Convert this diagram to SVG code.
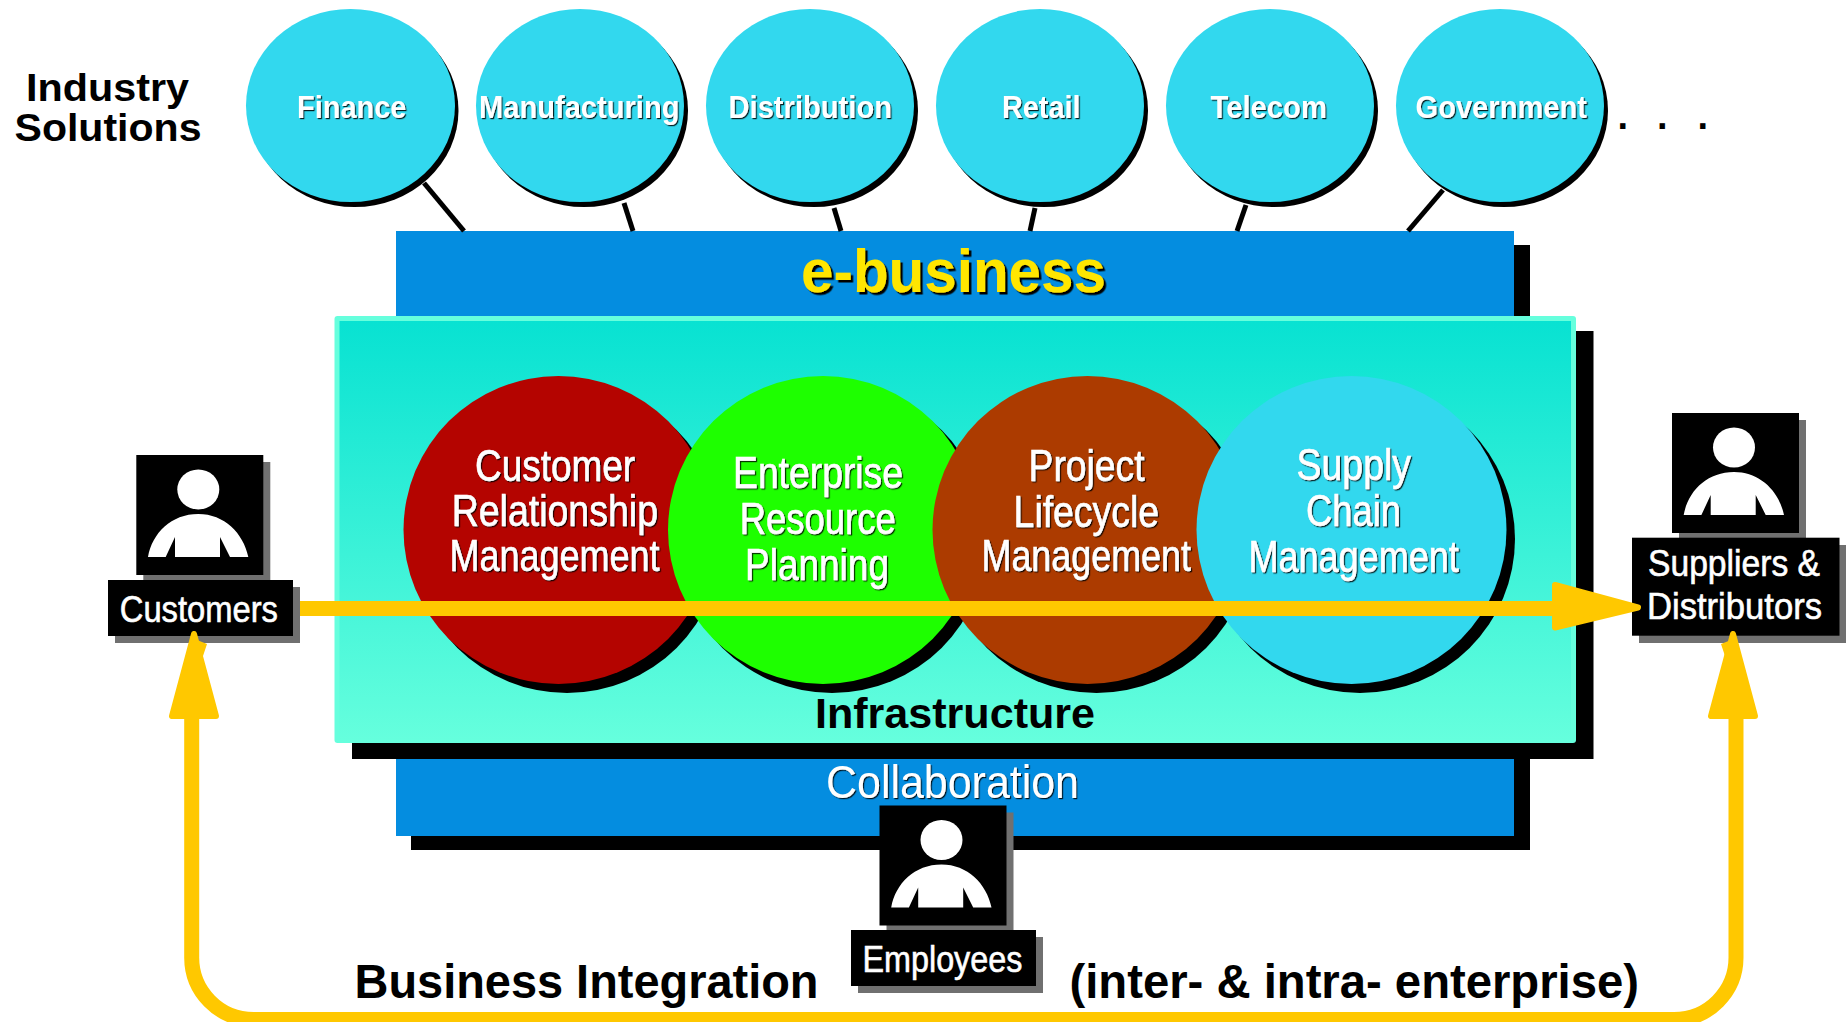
<svg xmlns="http://www.w3.org/2000/svg" xmlns:xlink="http://www.w3.org/1999/xlink" width="1846" height="1022" viewBox="0 0 1846 1022">
<style>
text{font-family:"Liberation Sans",Arial,sans-serif}
.b{font-weight:700}
.k{fill:#000}
.w{fill:#fff}
.t{stroke:#fff;stroke-width:.6}
.s1{filter:url(#ts1)}
.s2{filter:url(#ts2)}
.sol{fill:#32d8ee}
.sh{fill:#000}
.gs{fill:#707070}
.blk{fill:#000}
.f28{font-size:31px}
.f40{font-size:44px}
.f34{font-size:37px}
.wire{stroke:#000;stroke-width:5;fill:none}
.flow{stroke:#ffc800;stroke-width:15;fill:none}
.head{fill:#ffc800;stroke:#ffc800;stroke-width:6;stroke-linejoin:round}
</style>
<defs>
<filter id="ts1" x="-10%" y="-20%" width="120%" height="140%"><feDropShadow dx="1.2" dy="1.2" stdDeviation="0" flood-color="#000" flood-opacity=".85"/></filter>
<filter id="ts2" x="-10%" y="-20%" width="120%" height="140%"><feDropShadow dx="2.5" dy="2.5" stdDeviation="0" flood-color="#000"/></filter>
<linearGradient id="infra" x1="0" y1="0" x2="0" y2="1"><stop offset="0" stop-color="#08e2d2"/><stop offset="1" stop-color="#66ffdd"/></linearGradient>
<g id="person">
<rect x="7" y="7" width="127" height="120" class="gs"/>
<rect width="127" height="120" class="blk"/>
<ellipse cx="62" cy="34.5" rx="21" ry="20" class="w"/>
<path class="w" d="M11.7 102C16 78 35 59 62 59C88 59 107 78 112 102H93.7L83.7 82V102H38.7V82L29.4 102Z"/>
</g>
</defs>
<rect width="1846" height="1022" fill="#fff"/>
<g id="industry-title">
<text class="b k" font-size="39" x="26" y="101" textLength="163" lengthAdjust="spacingAndGlyphs">Industry</text>
<text class="b k" font-size="39" x="14.500" y="141" textLength="187" lengthAdjust="spacingAndGlyphs">Solutions</text>
</g>
<g id="finance"><ellipse class="sh" cx="354.500" cy="110.5" rx="104" ry="96.5"/><ellipse class="sol" cx="350.500" cy="105.5" rx="104.500" ry="96.5"/><text class="b w s1 f28" x="297" y="118.300" textLength="109.500" lengthAdjust="spacingAndGlyphs">Finance</text></g>
<g id="manufacturing"><ellipse class="sh" cx="584" cy="110.5" rx="104" ry="96.5"/><ellipse class="sol" cx="580" cy="105.5" rx="104" ry="96.5"/><text class="b w s1 f28" x="479" y="118.300" textLength="200.500" lengthAdjust="spacingAndGlyphs">Manufacturing</text></g>
<g id="distribution"><ellipse class="sh" cx="814" cy="110.5" rx="104" ry="96.5"/><ellipse class="sol" cx="810" cy="105.5" rx="104" ry="96.5"/><text class="b w s1 f28" x="728.500" y="118.300" textLength="163.500" lengthAdjust="spacingAndGlyphs">Distribution</text></g>
<g id="retail"><ellipse class="sh" cx="1044" cy="110.5" rx="104" ry="96.5"/><ellipse class="sol" cx="1040" cy="105.5" rx="104" ry="96.5"/><text class="b w s1 f28" x="1002" y="118.300" textLength="78.500" lengthAdjust="spacingAndGlyphs">Retail</text></g>
<g id="telecom"><ellipse class="sh" cx="1274" cy="110.5" rx="104" ry="96.5"/><ellipse class="sol" cx="1270" cy="105.5" rx="104" ry="96.5"/><text class="b w s1 f28" x="1210.500" y="118.300" textLength="116.500" lengthAdjust="spacingAndGlyphs">Telecom</text></g>
<g id="government"><ellipse class="sh" cx="1504" cy="110.5" rx="104" ry="96.5"/><ellipse class="sol" cx="1500" cy="105.5" rx="104" ry="96.5"/><text class="b w s1 f28" x="1415.500" y="118.300" textLength="171.500" lengthAdjust="spacingAndGlyphs">Government</text></g>
<g id="more"><text class="b k" font-size="38" x="1617.500 1640 1657 1680 1697.500" y="129">. . .</text></g>
<g id="e-business">
<rect x="411" y="245" width="1119" height="605" class="sh"/>
<rect x="396" y="231" width="1118" height="605" fill="#048de0"/>
<text class="b s2" fill="#ffe600" font-size="61" x="801" y="292" textLength="305" lengthAdjust="spacingAndGlyphs">e-business</text>
<text class="w s1" font-size="46" x="826" y="798" textLength="253" lengthAdjust="spacingAndGlyphs">Collaboration</text>
</g>
<g id="infrastructure">
<rect x="352" y="331" width="1241.500" height="428" class="sh"/>
<rect x="334.500" y="316" width="1241.500" height="427" rx="3" fill="#66ffdd"/>
<rect x="339.500" y="321" width="1231.500" height="422" fill="url(#infra)"/>
<text class="b k" font-size="43" x="815" y="728" textLength="280" lengthAdjust="spacingAndGlyphs">Infrastructure</text>
</g>
<g id="crm"><ellipse class="sh" cx="567" cy="539" rx="155" ry="154"/><ellipse cx="558.500" cy="530" rx="155" ry="154" fill="#b40400"/>
<text class="w t s1 f40" x="475" y="480.500" textLength="160" lengthAdjust="spacingAndGlyphs">Customer</text>
<text class="w t s1 f40" x="451.700" y="526.200" textLength="206.300" lengthAdjust="spacingAndGlyphs">Relationship</text>
<text class="w t s1 f40" x="449.600" y="571.200" textLength="210" lengthAdjust="spacingAndGlyphs">Management</text></g>
<g id="erp"><ellipse class="sh" cx="832" cy="539" rx="155" ry="154"/><ellipse cx="823" cy="530" rx="155" ry="154" fill="#1eff00"/>
<text class="w t s1 f40" x="733" y="487.800" textLength="170" lengthAdjust="spacingAndGlyphs">Enterprise</text>
<text class="w t s1 f40" x="739.700" y="533.800" textLength="156" lengthAdjust="spacingAndGlyphs">Resource</text>
<text class="w t s1 f40" x="745" y="579.500" textLength="144" lengthAdjust="spacingAndGlyphs">Planning</text></g>
<g id="plm"><ellipse class="sh" cx="1096.500" cy="539" rx="155" ry="154"/><ellipse cx="1087.500" cy="530" rx="155" ry="154" fill="#ac3b00"/>
<text class="w t s1 f40" x="1028.600" y="480.500" textLength="116" lengthAdjust="spacingAndGlyphs">Project</text>
<text class="w t s1 f40" x="1013.600" y="526.500" textLength="145.400" lengthAdjust="spacingAndGlyphs">Lifecycle</text>
<text class="w t s1 f40" x="981.500" y="571.200" textLength="209.500" lengthAdjust="spacingAndGlyphs">Management</text></g>
<g id="scm"><ellipse class="sh" cx="1360" cy="539" rx="155" ry="154"/><ellipse cx="1351.500" cy="530" rx="155" ry="154" fill="#32d8ee"/>
<text class="w t s1 f40" x="1296.600" y="480" textLength="114.400" lengthAdjust="spacingAndGlyphs">Supply</text>
<text class="w t s1 f40" x="1306" y="526" textLength="95" lengthAdjust="spacingAndGlyphs">Chain</text>
<text class="w t s1 f40" x="1248.400" y="571.500" textLength="210.400" lengthAdjust="spacingAndGlyphs">Management</text></g>
<g id="customers">
<use href="#person" x="136.300" y="455"/>
<rect x="115" y="587" width="185" height="56" class="gs"/><rect x="108" y="580" width="185" height="56" class="blk"/>
<text class="w t f34" x="119.800" y="621.500" textLength="158.200" lengthAdjust="spacingAndGlyphs">Customers</text>
</g>
<g id="suppliers">
<use href="#person" x="1672" y="413"/>
<rect x="1639" y="545" width="207" height="98" class="gs"/><rect x="1632" y="537.700" width="207.500" height="98" class="blk"/>
<text class="w t f34" x="1648" y="575.500" textLength="172" lengthAdjust="spacingAndGlyphs">Suppliers &amp;</text>
<text class="w t f34" x="1647" y="619.200" textLength="175" lengthAdjust="spacingAndGlyphs">Distributors</text>
</g>
<g id="employees">
<use href="#person" x="879.500" y="805.500"/>
<rect x="858" y="937" width="185" height="56" class="gs"/><rect x="851" y="930" width="185" height="56" class="blk"/>
<text class="w t f34" x="862.500" y="971.500" textLength="159.900" lengthAdjust="spacingAndGlyphs">Employees</text>
</g>
<g id="caption">
<text class="b k" font-size="48" x="354.500" y="998" textLength="464" lengthAdjust="spacingAndGlyphs">Business Integration</text>
<text class="b k" font-size="48" x="1069.500" y="998" textLength="569.500" lengthAdjust="spacingAndGlyphs">(inter- &amp; intra- enterprise)</text>
</g>
<g id="connectors">
<path class="wire" d="M424 183L464 231"/>
<path class="wire" d="M624 203L633 231"/>
<path class="wire" d="M834 208L841 231"/>
<path class="wire" d="M1035 208L1030 231"/>
<path class="wire" d="M1246 205L1237 231"/>
<path class="wire" d="M1443 190L1408 231"/>
<path class="flow" d="M300 608.500H1560"/>
<path class="head" d="M1555 585L1638 607.500L1555 627.500Z"/>
<path class="flow" d="M191.700 712V957A62 62 0 0 0 253.700 1019.500H1674A62 62 0 0 0 1736 957V712"/>
<path class="head" d="M194 634L172 716H216Z"/>
<path class="head" d="M1733 634L1711 716H1755Z"/>
<path fill="#ffc800" d="M197 640L207 644L203 656L197 656ZM1731 640L1721 644L1725 656L1731 656Z"/>
</g>
</svg>
